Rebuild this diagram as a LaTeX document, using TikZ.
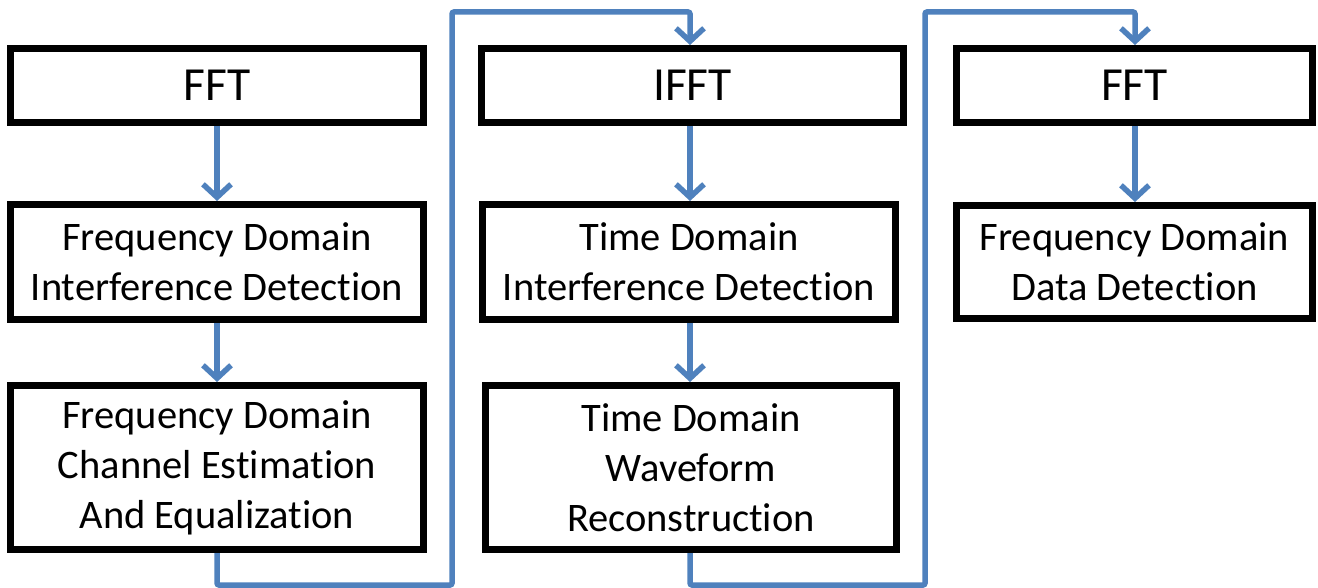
\documentclass[tikz,border=0pt]{standalone}
\usepackage{fontspec}
\setmainfont[Ligatures=NoCommon]{Carlito}
\usetikzlibrary{arrows.meta}
\definecolor{flowblue}{HTML}{4F81BD}
\begin{document}
\begin{tikzpicture}[x=1pt,y=-1pt,
  box/.style={draw=black, line width=7pt, rectangle, inner sep=0pt, align=center,
    font=\fontsize{40.5}{50}\selectfont, text=black},
  bigbox/.style={box, font=\fontsize{47.5}{56}\selectfont},
  link/.style={draw=flowblue, line width=5.5pt, rounded corners=2pt,
    -{Straight Barb[length=13pt,width=28pt,line width=5.5pt]}},
]
\useasboundingbox (0,0) rectangle (1318,588);
% column 1
\node[bigbox, minimum width=413pt, minimum height=74pt] (fft1) at (217,85.5) {FFT};
\node[box, minimum width=413pt, minimum height=115pt] (fdid) at (217,262) {Frequency Domain\\Interference Detection};
\node[box, minimum width=413pt, minimum height=164pt] (fdce) at (217,467.5) {Frequency Domain\\Channel Estimation\\And Equalization};
% column 2
\node[bigbox, minimum width=422pt, minimum height=74pt] (ifft) at (692.5,85.5) {IFFT};
\node[box, minimum width=413pt, minimum height=115pt] (tdid) at (689,262) {Time Domain\\Interference Detection};
\node[box, minimum width=411pt, minimum height=164pt] (tdwr) at (691,467.5) {Time Domain\\Waveform\\Reconstruction};
% column 3
\node[bigbox, minimum width=356pt, minimum height=74pt] (fft2) at (1134.5,85.5) {FFT};
\node[box, minimum width=356pt, minimum height=113pt] (fddd) at (1134.5,262) {Frequency Domain\\Data Detection};
% helper coordinates
\coordinate (c2) at (690,0);
\coordinate (c3) at (1135,0);
\coordinate (b1) at (217,585);
\coordinate (r1b) at (452,585);
\coordinate (r1t) at (452,12);
\coordinate (t1) at (690,12);
\coordinate (b2) at (690,585);
\coordinate (r2b) at (925,585);
\coordinate (r2t) at (925,12);
\coordinate (t2) at (1135,12);
% straight arrows
\draw[link] (fft1.south) -- (fdid.north);
\draw[link] (fdid.south) -- (fdce.north);
\draw[link] (ifft.south -| c2) -- (tdid.north -| c2);
\draw[link] (tdid.south -| c2) -- (tdwr.north -| c2);
\draw[link] (fft2.south -| c3) -- (fddd.north -| c3);
% loop connectors
\draw[link] (fdce.south) -- (b1) -- (r1b) -- (r1t) -- (t1) -- (ifft.north -| c2);
\draw[link] (tdwr.south -| c2) -- (b2) -- (r2b) -- (r2t) -- (t2) -- (fft2.north -| c3);
\end{tikzpicture}
\end{document}
